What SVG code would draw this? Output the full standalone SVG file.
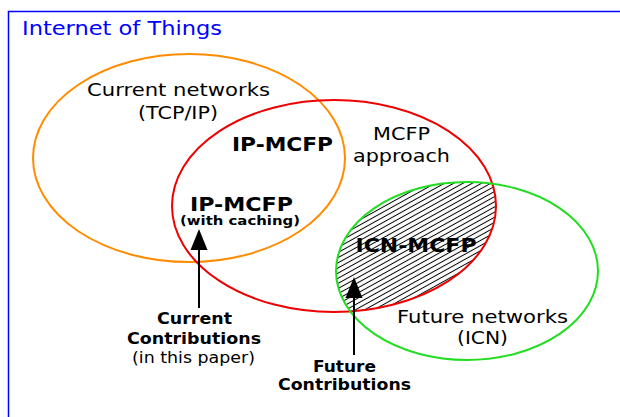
<svg xmlns="http://www.w3.org/2000/svg" width="620" height="417" viewBox="0 0 620 417">
<style>
  text { font-family: "DejaVu Sans", "Liberation Sans", sans-serif; fill: #000; }
  .t { font-size: 18px; text-anchor: middle; }
  .b { font-weight: bold; text-anchor: middle; }
  .set { fill: none; stroke-width: 2; }
  .arrow { stroke: #000; stroke-width: 2; fill: none; marker-end: url(#head); }
</style>
<defs>
  <marker id="head" markerUnits="userSpaceOnUse" markerWidth="22" markerHeight="18" refX="0" refY="8.5" orient="auto" viewBox="0 0 22 17">
    <path d="M0,0 L21,8.5 L0,17 z" fill="#000"/>
  </marker>
  <pattern id="hatch" patternUnits="userSpaceOnUse" width="4.5" height="4.5" patternTransform="rotate(-29)">
    <line x1="0" y1="2.25" x2="4.5" y2="2.25" stroke="#000" stroke-width="1"/>
  </pattern>
  <clipPath id="redClip">
    <ellipse cx="334" cy="206" rx="162" ry="106"/>
  </clipPath>
</defs>

<g id="iot-frame">
  <rect x="8.5" y="11.5" width="640" height="440" fill="none" stroke="#0000ff" stroke-width="1.5"/>
  <text x="22" y="35" style="font-size:20px;fill:#0000ff" textLength="200" lengthAdjust="spacingAndGlyphs">Internet of Things</text>
</g>

<g id="icn-mcfp">
  <ellipse cx="467" cy="271" rx="131" ry="89" fill="url(#hatch)" clip-path="url(#redClip)"/>
  <text x="416" y="252" class="b" style="font-size:19px" textLength="121" lengthAdjust="spacingAndGlyphs">ICN-MCFP</text>
</g>

<g id="current-networks">
  <ellipse cx="189" cy="158" rx="156" ry="104" class="set" stroke="#ff8c00"/>
  <text x="178.5" y="96" class="t" textLength="183" lengthAdjust="spacingAndGlyphs">Current networks</text>
  <text x="178" y="119" class="t" textLength="80" lengthAdjust="spacingAndGlyphs">(TCP/IP)</text>
</g>

<g id="mcfp-approach">
  <ellipse cx="334" cy="206" rx="162" ry="106" class="set" stroke="#ee0000"/>
  <text x="401.5" y="140" class="t" textLength="57" lengthAdjust="spacingAndGlyphs">MCFP</text>
  <text x="401.5" y="162" class="t" textLength="97" lengthAdjust="spacingAndGlyphs">approach</text>
  <text x="282.5" y="151" class="b" style="font-size:20px" textLength="101" lengthAdjust="spacingAndGlyphs">IP-MCFP</text>
</g>

<g id="ip-mcfp-caching">
  <text x="241.5" y="211" class="b" style="font-size:19px" textLength="103" lengthAdjust="spacingAndGlyphs">IP-MCFP</text>
  <text x="240" y="225" class="b" style="font-size:12px" textLength="120" lengthAdjust="spacingAndGlyphs">(with caching)</text>
</g>

<g id="future-networks">
  <ellipse cx="467" cy="271" rx="131" ry="89" class="set" stroke="#22dd22"/>
  <text x="482.5" y="323" class="t" textLength="171" lengthAdjust="spacingAndGlyphs">Future networks</text>
  <text x="482.5" y="344" class="t" textLength="51" lengthAdjust="spacingAndGlyphs">(ICN)</text>
</g>

<g id="current-contributions">
  <text x="194.5" y="324" class="b" style="font-size:15px" textLength="75" lengthAdjust="spacingAndGlyphs">Current</text>
  <text x="194" y="344" class="b" style="font-size:15px" textLength="134" lengthAdjust="spacingAndGlyphs">Contributions</text>
  <text x="193.5" y="363" style="font-size:15px;text-anchor:middle" textLength="123" lengthAdjust="spacingAndGlyphs">(in this paper)</text>
</g>

<g id="future-contributions">
  <text x="344.5" y="372" class="b" style="font-size:15px" textLength="63" lengthAdjust="spacingAndGlyphs">Future</text>
  <text x="344.5" y="390" class="b" style="font-size:15px" textLength="133" lengthAdjust="spacingAndGlyphs">Contributions</text>
</g>

<g id="connectors">
  <line x1="199" y1="308" x2="199" y2="250" class="arrow"/>
  <line x1="354" y1="355" x2="354" y2="298" class="arrow"/>
</g>
</svg>
